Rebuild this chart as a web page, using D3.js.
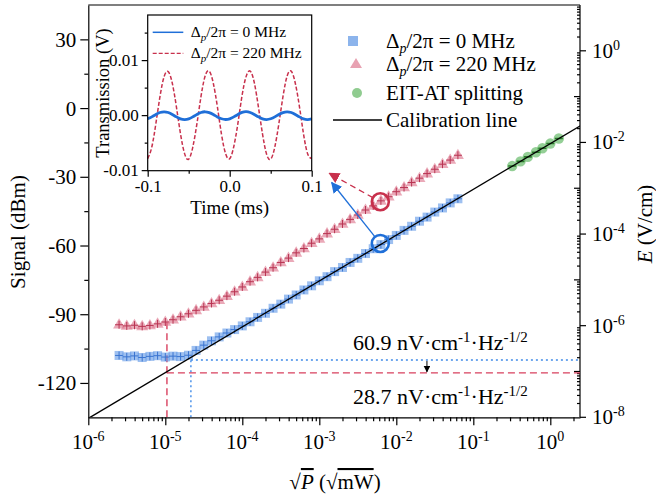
<!DOCTYPE html>
<html>
<head>
<meta charset="utf-8">
<script src="https://cdn.jsdelivr.net/npm/d3@7"></script>
<style>
    body { margin: 0; background: #fff; }
    svg text { font-family: "Liberation Serif", "Times New Roman", serif; fill: #000; }
</style>
</head>
<body>
<div id="chart"></div>
<script>

// sqrt(P) in sqrt(mW), shared by both detunings
const sqrtP = [
    2.51e-6, 3.16e-6, 3.98e-6, 5.01e-6, 6.31e-6, 7.94e-6, 1.00e-5, 1.26e-5, 1.58e-5, 2.00e-5,
    2.51e-5, 3.16e-5, 3.98e-5, 5.01e-5, 6.31e-5, 7.94e-5, 1.00e-4, 1.26e-4, 1.58e-4, 2.00e-4,
    2.51e-4, 3.16e-4, 3.98e-4, 5.01e-4, 6.31e-4, 7.94e-4, 1.00e-3, 1.26e-3, 1.58e-3, 2.00e-3,
    2.51e-3, 3.16e-3, 3.98e-3, 5.01e-3, 6.31e-3, 7.94e-3, 1.00e-2, 1.26e-2, 1.58e-2, 2.00e-2,
    2.51e-2, 3.16e-2, 3.98e-2, 5.01e-2, 6.31e-2
];
// signal in dBm, probe detuning 0 MHz
const signal0MHz = [
    -108.0, -108.6, -108.2, -108.9, -108.4, -108.1, -108.7, -108.3, -108.5, -107.9,
    -105.8, -103.5, -101.6, -99.9, -98.2, -96.7, -95.1, -93.3, -91.4, -89.6,
    -87.4, -85.6, -83.4, -81.6, -79.4, -77.6, -75.4, -73.6, -71.4, -69.6,
    -67.4, -65.6, -63.5, -61.4, -59.6, -57.4, -55.6, -53.4, -51.6, -49.4,
    -47.6, -45.4, -43.6, -41.4, -39.6
];
// signal in dBm, probe detuning 220 MHz
const signal220MHz = [
    -94.6, -95.1, -94.8, -95.3, -94.9, -94.2, -93.4, -92.4, -91.1, -89.8,
    -88.3, -86.8, -85.3, -83.9, -82.1, -80.2, -78.1, -75.8, -73.9, -71.6,
    -69.7, -67.4, -65.5, -63.2, -61.3, -59.0, -57.1, -54.8, -52.9, -50.6,
    -48.6, -46.7, -44.5, -42.7, -40.5, -38.7, -36.5, -34.7, -32.5, -30.6,
    -28.6, -26.7, -24.5, -22.7, -20.6
];
// EIT-AT splitting points, field in V/cm (right axis)
const eitSqrtP = [0.32, 0.41, 0.51, 0.65, 0.79, 1.0, 1.29];
const eitField = [0.00305, 0.00385, 0.00483, 0.00612, 0.00748, 0.00945, 0.0122];
// calibration line end points
const calibSqrtP = [1e-6, 3];
const calibSignal = [-135.5, -5.96];

// inset traces
const insetTime = [
    -0.1, -0.095, -0.09, -0.085, -0.08, -0.075, -0.07, -0.065, -0.06, -0.055,
    -0.05, -0.045, -0.04, -0.035, -0.03, -0.025, -0.02, -0.015, -0.01, -0.005,
    0, 0.005, 0.01, 0.015, 0.02, 0.025, 0.03, 0.035, 0.04, 0.045,
    0.05, 0.055, 0.06, 0.065, 0.07, 0.075, 0.08, 0.085, 0.09, 0.095, 0.1
];
const insetV0MHz = [
    -0.00067, -0.00032, 0.00012, 0.00047, 0.0006, 0.00047, 0.00012, -0.00032, -0.00067, -0.0008,
    -0.00068, -0.00031, 0.00013, 0.00048, 0.00061, 0.00046, 0.00011, -0.00033, -0.00066, -0.00079,
    -0.00067, -0.00032, 0.00012, 0.00049, 0.00062, 0.00048, 0.00012, -0.00031, -0.00067, -0.0008,
    -0.00066, -0.00032, 0.00013, 0.00047, 0.0006, 0.00047, 0.00011, -0.00032, -0.00068, -0.0008,
    -0.00067
];
const insetV220MHz = [
    -0.0079, -0.0058, -0.0015, 0.0034, 0.0070, 0.0079, 0.0058, 0.0015, -0.0034, -0.0070,
    -0.0080, -0.0058, -0.0016, 0.0034, 0.0071, 0.0080, 0.0058, 0.0015, -0.0035, -0.0070,
    -0.0079, -0.0057, -0.0015, 0.0035, 0.0070, 0.0080, 0.0059, 0.0015, -0.0034, -0.0071,
    -0.0080, -0.0058, -0.0015, 0.0034, 0.0071, 0.0080, 0.0058, 0.0016, -0.0034, -0.0070,
    -0.0079
];

// ticks
const signalTicks = [30, 0, -30, -60, -90, -120];
const signalMinorTicks = [15, -15, -45, -75, -105];
const sqrtPDecades = [-6, -5, -4, -3, -2, -1, 0];
const fieldDecades = [0, -2, -4, -6, -8];
const insetTimeTicks = [-0.1, 0, 0.1];
const insetTimeMinor = [-0.05, 0.05];
const insetVTicks = [0.01, 0, -0.01];
const insetVMinor = [0.015, 0.005, -0.005];

// noise floors / sensitivity annotation
const floorSqrtP = [2.15e-5, 1.05e-5];       // 0 MHz, 220 MHz
const floorSignal = [-110, -115.6];
const floorTopSignal = [-110, -93.4];
const sensitivityText = ["60.9", "28.7"];
const sensitivitySignal = [-105.8, -129.3];
const sensitivityArrowSqrtP = 0.025;
// highlighted points and arrows to inset
const markSqrtP = 6.2e-3;
const markSignal = [-59.1, -40.9];            // 0 MHz, 220 MHz
const arrowTipSqrtP = [1.45e-3, 1.35e-3];
const arrowTipSignal = [-32.5, -28.5];

const props = {
    width: 656, height: 497,
    plot: {left: 88.3, right: 580, top: 5, bottom: 417.3},
    inset: {left: 147.7, right: 311.7, top: 15, bottom: 170.7},
    blue: "#1f6fd8", red: "#c8304c", green: "#4caf50",
    font: 21, supFont: 14
};

const svg = d3.select("#chart").append("svg")
    .attr("width", props.width)
    .attr("height", props.height);

const defs = svg.append("defs");
defs.append("clipPath").attr("id", "plotClip")
    .append("rect")
    .attr("x", props.plot.left).attr("y", props.plot.top)
    .attr("width", props.plot.right - props.plot.left)
    .attr("height", props.plot.bottom - props.plot.top);

const addArrowMarker = (id, color, size) => {
    defs.append("marker").attr("id", id)
        .attr("viewBox", "0 0 10 10").attr("refX", 9).attr("refY", 5)
        .attr("markerWidth", size).attr("markerHeight", size)
        .attr("markerUnits", "userSpaceOnUse")
        .attr("orient", "auto")
        .append("path").attr("d", "M0,0L10,5L0,10Z").attr("fill", color);
};
addArrowMarker("arrowBlue", props.blue, 11);
addArrowMarker("arrowRed", props.red, 11);
addArrowMarker("arrowBlack", "#000", 7);

const x = d3.scaleLog().domain([1e-6, 2.43]).range([props.plot.left, props.plot.right]);
const y = d3.scaleLinear().domain([-135, 45]).range([props.plot.bottom, props.plot.top]);
const yField = d3.scaleLog().domain([1e-8, 10]).range([props.plot.bottom, props.plot.top]);

const hyphen = (d) => d < 0 ? "-" + Math.abs(d) : String(d);

// ---- axes ----
const axes = svg.append("g").attr("class", "axes");

const leftAxis = axes.append("g")
    .attr("transform", `translate(${props.plot.left},0)`)
    .call(d3.axisLeft(y).tickValues(signalTicks).tickSize(8).tickSizeOuter(0).tickPadding(4).tickFormat(hyphen));
axes.append("g")
    .attr("transform", `translate(${props.plot.left},0)`)
    .call(d3.axisLeft(y).tickValues(signalMinorTicks).tickSize(4).tickSizeOuter(0).tickFormat(""))
    .select(".domain").remove();

const majorX = sqrtPDecades.map((e) => Math.pow(10, e));
const minorX = [];
sqrtPDecades.forEach((e) => d3.range(2, 10).forEach((m) => {
    const v = m * Math.pow(10, e);
    if (v < x.domain()[1]) minorX.push(v);
}));

axes.append("g")
    .attr("transform", `translate(0,${props.plot.bottom})`)
    .call(d3.axisBottom(x).tickValues(majorX).tickSize(8).tickSizeOuter(0).tickFormat(""));
axes.append("g")
    .attr("transform", `translate(0,${props.plot.bottom})`)
    .call(d3.axisBottom(x).tickValues(minorX).tickSize(4).tickSizeOuter(0).tickFormat(""))
    .select(".domain").remove();

// right axis (field), decade ticks and minors
const fieldMinor = [];
d3.range(-8, 1).forEach((e) => d3.range(2, 10).forEach((m) => fieldMinor.push(m * Math.pow(10, e))));
const fieldAllDecades = d3.range(-8, 1).map((e) => Math.pow(10, e));

axes.append("line")
    .attr("x1", props.plot.right).attr("x2", props.plot.right)
    .attr("y1", props.plot.top).attr("y2", props.plot.bottom);
axes.append("line")
    .attr("x1", props.plot.left).attr("x2", props.plot.right)
    .attr("y1", props.plot.top).attr("y2", props.plot.top);
axes.selectAll(".fieldMinor").data(fieldMinor).join("line")
    .attr("class", "fieldMinor")
    .attr("x1", props.plot.right - 3).attr("x2", props.plot.right)
    .attr("y1", (d) => yField(d)).attr("y2", (d) => yField(d));
axes.selectAll(".fieldMajor").data(fieldAllDecades).join("line")
    .attr("class", "fieldMajor")
    .attr("x1", (d) => Math.round(Math.log10(d)) % 2 === 0 ? props.plot.right : props.plot.right - 6)
    .attr("x2", (d) => Math.round(Math.log10(d)) % 2 === 0 ? props.plot.right + 6 : props.plot.right)
    .attr("y1", (d) => yField(d)).attr("y2", (d) => yField(d));
axes.selectAll("line").attr("stroke", "#000").attr("stroke-width", 1.2);
axes.selectAll(".domain").attr("stroke", "#000").attr("stroke-width", 1.2);
axes.selectAll(".tick line").attr("stroke", "#000").attr("stroke-width", 1.2);
leftAxis.selectAll("text")
    .attr("font-size", props.font)
    .attr("dy", "0.33em");

// tick labels with powers of ten
const powerLabel = (sel, exp) => {
    sel.append("tspan").text("10");
    sel.append("tspan").attr("font-size", props.supFont).attr("dy", -8).text(hyphen(exp));
};
svg.append("g").selectAll("text").data(sqrtPDecades).join("text")
    .attr("x", (d) => x(Math.pow(10, d)))
    .attr("y", 449)
    .attr("text-anchor", "middle")
    .attr("font-size", props.font)
    .each(function (d) { powerLabel(d3.select(this), d); });

svg.append("g").selectAll("text").data(fieldDecades).join("text")
    .attr("x", props.plot.right + 12)
    .attr("y", (d) => yField(Math.pow(10, d)) + 7)
    .attr("font-size", props.font)
    .each(function (d) { powerLabel(d3.select(this), d); });

// axis titles
svg.append("text")
    .attr("transform", `translate(25,${232}) rotate(-90)`)
    .attr("text-anchor", "middle")
    .attr("font-size", props.font)
    .text("Signal (dBm)");

const rightTitle = svg.append("text")
    .attr("transform", `translate(652,${224}) rotate(-90)`)
    .attr("text-anchor", "middle")
    .attr("font-size", props.font);
rightTitle.append("tspan").attr("font-style", "italic").text("E");
rightTitle.append("tspan").text("  (V/cm)");

const xTitle = svg.append("text")
    .attr("x", 335).attr("y", 489)
    .attr("text-anchor", "middle")
    .attr("font-size", props.font);
xTitle.append("tspan").text("√");
xTitle.append("tspan").attr("font-style", "italic").style("text-decoration", "overline").text("P");
xTitle.append("tspan").text(" (√");
xTitle.append("tspan").style("text-decoration", "overline").text("mW");
xTitle.append("tspan").text(")");

// ---- data ----
const plotArea = svg.append("g").attr("clip-path", "url(#plotClip)");
const crossPath = "M-4,0H4M0,-4V4";

// noise floor guides
const guides = plotArea.append("g");
const guideStyle = [
    {stroke: "#3f8ae8", dash: "2,3"},
    {stroke: "#d8405e", dash: "7,4"}
];
floorSqrtP.forEach((v, i) => {
    guides.append("line")
        .attr("x1", x(v)).attr("x2", x(v))
        .attr("y1", y(-135)).attr("y2", y(floorTopSignal[i]))
        .attr("stroke", guideStyle[i].stroke).attr("stroke-width", 1.4)
        .attr("stroke-dasharray", guideStyle[i].dash);
    guides.append("line")
        .attr("x1", x(v)).attr("x2", props.plot.right)
        .attr("y1", y(floorSignal[i])).attr("y2", y(floorSignal[i]))
        .attr("stroke", guideStyle[i].stroke).attr("stroke-width", 1.4)
        .attr("stroke-dasharray", guideStyle[i].dash);
});

const squares = plotArea.append("g").selectAll("g")
    .data(sqrtP.map((v, i) => ({x: v, y: signal0MHz[i]})))
    .join("g")
    .attr("transform", (d) => `translate(${x(d.x)},${y(d.y)})`);
squares.append("rect")
    .attr("x", -4.5).attr("y", -4.5).attr("width", 9).attr("height", 9)
    .attr("fill", "#5e96e6").attr("fill-opacity", 0.6);
squares.append("path").attr("d", crossPath)
    .attr("stroke", "#3a74d0").attr("stroke-width", 1);

const triangles = plotArea.append("g").selectAll("g")
    .data(sqrtP.map((v, i) => ({x: v, y: signal220MHz[i]})))
    .join("g")
    .attr("transform", (d) => `translate(${x(d.x)},${y(d.y)})`);
triangles.append("path")
    .attr("d", "M0,-6.5L6,3.8L-6,3.8Z")
    .attr("fill", "#dc7088").attr("fill-opacity", 0.6);
triangles.append("path").attr("d", crossPath)
    .attr("stroke", "#b83452").attr("stroke-width", 1);

const dots = plotArea.append("g").selectAll("g")
    .data(eitSqrtP.map((v, i) => ({x: v, e: eitField[i]})))
    .join("g")
    .attr("transform", (d) => `translate(${x(d.x)},${yField(d.e)})`);
dots.append("circle").attr("r", 5.2)
    .attr("fill", props.green).attr("fill-opacity", 0.6);
dots.append("path").attr("d", "M-4,0H4")
    .attr("stroke", "#2a7a2a").attr("stroke-width", 1.6);

plotArea.append("path")
    .datum(calibSqrtP.map((v, i) => [x(v), y(calibSignal[i])]))
    .attr("d", d3.line())
    .attr("stroke", "#000").attr("stroke-width", 1.3).attr("fill", "none");

// highlighted points and arrows to the inset
const markColors = [props.blue, props.red];
markSignal.forEach((s, i) => {
    const cx = x(markSqrtP), cy = y(s);
    const tx = x(arrowTipSqrtP[i]), ty = y(arrowTipSignal[i]);
    const len = Math.hypot(cx - tx, cy - ty);
    const r = 8.5;
    svg.append("line")
        .attr("x1", cx - (cx - tx) / len * r).attr("y1", cy - (cy - ty) / len * r)
        .attr("x2", tx).attr("y2", ty)
        .attr("stroke", markColors[i]).attr("stroke-width", 1.3)
        .attr("stroke-dasharray", i === 1 ? "6,4" : null)
        .attr("marker-end", i === 0 ? "url(#arrowBlue)" : "url(#arrowRed)");
    svg.append("circle")
        .attr("cx", cx).attr("cy", cy).attr("r", r)
        .attr("fill", "none").attr("stroke", markColors[i]).attr("stroke-width", 2.6);
});

// sensitivity labels
sensitivityText.forEach((t, i) => {
    const label = svg.append("text")
        .attr("x", 353).attr("y", y(sensitivitySignal[i]))
        .attr("font-size", 22);
    label.append("tspan").text(`${t} nV·cm`);
    label.append("tspan").attr("font-size", 15).attr("dy", -8).text("-1");
    label.append("tspan").attr("dy", 8).text("·Hz");
    label.append("tspan").attr("font-size", 15).attr("dy", -8).text("-1/2");
});
svg.append("line")
    .attr("x1", x(sensitivityArrowSqrtP)).attr("x2", x(sensitivityArrowSqrtP))
    .attr("y1", y(floorSignal[0]) + 1).attr("y2", y(floorSignal[1]) - 1)
    .attr("stroke", "#000").attr("stroke-width", 1)
    .attr("marker-end", "url(#arrowBlack)");

// ---- legend ----
const legend = svg.append("g");
const legendRows = [41, 64, 93, 120];
const legendX = 386;
const addDeltaLabel = (sel, rest) => {
    sel.append("tspan").text("Δ");
    sel.append("tspan").attr("font-style", "italic").attr("font-size", props.supFont).attr("dy", 5).text("p");
    sel.append("tspan").attr("dy", -5).text(rest);
};
legend.append("rect")
    .attr("x", 348).attr("y", legendRows[0] - 5).attr("width", 10).attr("height", 10)
    .attr("fill", "#8cb4ec");
legend.append("path")
    .attr("transform", `translate(356,${legendRows[1]})`)
    .attr("d", "M0,-6L6,4L-6,4Z").attr("fill", "#e8a2b2");
legend.append("circle")
    .attr("cx", 357).attr("cy", legendRows[2]).attr("r", 5)
    .attr("fill", "#90cc90");
legend.append("line")
    .attr("x1", 333).attr("x2", 382).attr("y1", legendRows[3]).attr("y2", legendRows[3])
    .attr("stroke", "#000").attr("stroke-width", 1.3);
const legendText = (row) => legend.append("text")
    .attr("x", legendX).attr("y", legendRows[row] + 7).attr("font-size", props.font);
addDeltaLabel(legendText(0), "/2π = 0 MHz");
addDeltaLabel(legendText(1), "/2π = 220 MHz");
legendText(2).text("EIT-AT splitting");
legendText(3).text("Calibration line");

// ---- inset ----
const inset = svg.append("g");
const xi = d3.scaleLinear().domain([-0.1, 0.1]).range([props.inset.left, props.inset.right]);
const yi = d3.scaleLinear().domain([-0.0101, 0.0182]).range([props.inset.bottom, props.inset.top]);

inset.append("rect")
    .attr("x", props.inset.left).attr("y", props.inset.top)
    .attr("width", props.inset.right - props.inset.left)
    .attr("height", props.inset.bottom - props.inset.top)
    .attr("fill", "#fff");

const insetLine = d3.line()
    .x((d) => xi(d[0]))
    .y((d) => yi(d[1]))
    .curve(d3.curveNatural);

inset.append("path")
    .datum(insetTime.map((t, i) => [t, insetV220MHz[i]]))
    .attr("d", insetLine)
    .attr("fill", "none").attr("stroke", props.red)
    .attr("stroke-width", 1.5).attr("stroke-dasharray", "4,2");
inset.append("path")
    .datum(insetTime.map((t, i) => [t, insetV0MHz[i]]))
    .attr("d", insetLine)
    .attr("fill", "none").attr("stroke", props.blue)
    .attr("stroke-width", 2.8);

inset.append("rect")
    .attr("x", props.inset.left).attr("y", props.inset.top)
    .attr("width", props.inset.right - props.inset.left)
    .attr("height", props.inset.bottom - props.inset.top)
    .attr("fill", "none").attr("stroke", "#000").attr("stroke-width", 1.2);

const signedFixed = (digits) => (d) => (d < 0 ? "-" : "") + d3.format(`.${digits}f`)(Math.abs(d));
const insetAxes = inset.append("g");
insetAxes.append("g")
    .attr("transform", `translate(${props.inset.left},0)`)
    .call(d3.axisLeft(yi).tickValues(insetVTicks).tickSize(6).tickSizeOuter(0).tickPadding(3)
        .tickFormat(signedFixed(2)));
insetAxes.append("g")
    .attr("transform", `translate(${props.inset.left},0)`)
    .call(d3.axisLeft(yi).tickValues(insetVMinor).tickSize(3).tickSizeOuter(0).tickFormat(""));
insetAxes.append("g")
    .attr("transform", `translate(0,${props.inset.bottom})`)
    .call(d3.axisBottom(xi).tickValues(insetTimeTicks).tickSize(6).tickSizeOuter(0).tickPadding(3)
        .tickFormat(signedFixed(1)));
insetAxes.append("g")
    .attr("transform", `translate(0,${props.inset.bottom})`)
    .call(d3.axisBottom(xi).tickValues(insetTimeMinor).tickSize(3).tickSizeOuter(0).tickFormat(""));
insetAxes.selectAll(".domain").remove();
insetAxes.selectAll(".tick line").attr("stroke", "#000").attr("stroke-width", 1.2);
insetAxes.selectAll("text").attr("font-size", 17);

inset.append("text")
    .attr("transform", `translate(109,${93}) rotate(-90)`)
    .attr("text-anchor", "middle")
    .attr("font-size", 18.5)
    .text("Transmission (V)");
inset.append("text")
    .attr("x", xi(0)).attr("y", 214)
    .attr("text-anchor", "middle")
    .attr("font-size", 19)
    .text("Time (ms)");

const insetLegendRows = [32.3, 53.3];
inset.append("line")
    .attr("x1", 152.7).attr("x2", 183.3).attr("y1", insetLegendRows[0]).attr("y2", insetLegendRows[0])
    .attr("stroke", props.blue).attr("stroke-width", 1.5);
inset.append("line")
    .attr("x1", 152.7).attr("x2", 183.3).attr("y1", insetLegendRows[1]).attr("y2", insetLegendRows[1])
    .attr("stroke", props.red).attr("stroke-width", 1.3).attr("stroke-dasharray", "4,2");
["/2π = 0 MHz", "/2π = 220 MHz"].forEach((rest, i) => {
    const t = inset.append("text")
        .attr("x", 190.7).attr("y", insetLegendRows[i] + 5)
        .attr("font-size", 15.5);
    t.append("tspan").text("Δ");
    t.append("tspan").attr("font-style", "italic").attr("font-size", 11).attr("dy", 4).text("p");
    t.append("tspan").attr("dy", -4).text(rest);
});

</script>
</body>
</html>
